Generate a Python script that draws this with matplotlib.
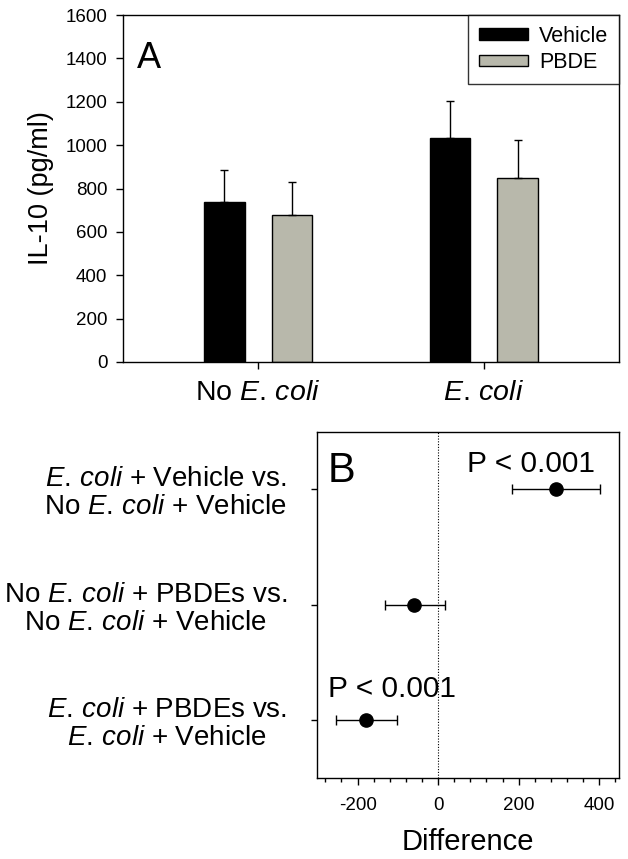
import matplotlib
matplotlib.use("Agg")
import matplotlib.pyplot as plt
from matplotlib.ticker import MultipleLocator
import numpy as np

plt.rcParams['font.family'] = ['Liberation Sans', 'DejaVu Sans']
plt.rcParams['mathtext.fontset'] = 'custom'
plt.rcParams['mathtext.rm'] = 'Liberation Sans'
plt.rcParams['mathtext.it'] = 'Liberation Sans:italic'
plt.rcParams['axes.unicode_minus'] = False

# Panel A data: IL-10 means and SEM (upper error only)
groups = ['No $\\it{E.\\,coli}$', '$\\it{E.\\,coli}$']
vehicle = [739, 1033]
vehicle_err = [148, 170]
pbde = [679, 850]
pbde_err = [151, 173]

# Panel B data: differences with confidence intervals
comparisons = ['$\\it{E.\\,coli}$ + Vehicle vs.\nNo $\\it{E.\\,coli}$ + Vehicle',
               'No $\\it{E.\\,coli}$ + PBDEs vs.\nNo $\\it{E.\\,coli}$ + Vehicle',
               '$\\it{E.\\,coli}$ + PBDEs vs.\n$\\it{E.\\,coli}$ + Vehicle']
diff = [292, -59, -178]
ci_low = [183, -131, -254]
ci_high = [403, 18, -103]

grey = '#b8b8ab'

fig = plt.figure(figsize=(6.28, 8.59), dpi=100)

"""Panel A"""
ax = fig.add_axes([0.1954, 0.5786, 0.7903, 0.4039])
x = np.arange(len(groups))
w = 0.18
ax.bar(x - 0.15, vehicle, w, color='black', edgecolor='black', linewidth=1, label='Vehicle')
ax.bar(x + 0.15, pbde, w, color=grey, edgecolor='black', linewidth=1, label='PBDE')
ax.errorbar(x - 0.15, vehicle, yerr=[[0, 0], vehicle_err], fmt='none', ecolor='black',
            elinewidth=1, capsize=3, capthick=1)
ax.errorbar(x + 0.15, pbde, yerr=[[0, 0], pbde_err], fmt='none', ecolor='black',
            elinewidth=1, capsize=3, capthick=1)
ax.set_xlim(-0.6, 1.6)
ax.set_ylim(0, 1600)
ax.set_yticks(range(0, 1601, 200))
ax.set_xticks(x)
ax.set_xticklabels(groups, fontsize=20.5)
ax.tick_params(axis='y', labelsize=13.5, direction='out', length=5, width=1, pad=6)
ax.tick_params(axis='x', direction='out', length=5, width=1, pad=8)
ax.set_ylabel('IL-10 (pg/ml)', fontsize=19.5, labelpad=8)
for s in ax.spines.values():
    s.set_linewidth(1)
ax.text(0.029, 0.847, 'A', transform=ax.transAxes, fontsize=26, va='baseline')
leg = ax.legend(loc='upper right', fontsize=15.5, frameon=True, fancybox=False,
                edgecolor='black', borderaxespad=0, handlelength=2.3, handleheight=0.46,
                labelspacing=0.25, handletextpad=0.5, borderpad=0.5)
leg.get_frame().set_linewidth(1)

"""Panel B"""
bx = fig.add_axes([0.5053, 0.0943, 0.4809, 0.4031])
y = np.array([3, 2, 1])
d = np.array(diff)
xerr = [d - np.array(ci_low), np.array(ci_high) - d]
bx.axvline(0, color='black', linestyle=(0, (1, 1.5)), linewidth=0.8)
bx.errorbar(d, y, xerr=xerr, fmt='o', color='black', markersize=9.5, elinewidth=1,
            capsize=3.5, capthick=1)
bx.set_xlim(-300, 450)
bx.set_ylim(0.5, 3.5)
bx.set_xticks([-200, 0, 200, 400])
bx.xaxis.set_minor_locator(MultipleLocator(40))
bx.set_yticks(y)
bx.set_yticklabels(comparisons, fontsize=20, multialignment='center', linespacing=1.1)
bx.tick_params(axis='y', direction='out', length=4, width=1, pad=18)
bx.tick_params(axis='x', which='major', labelsize=13.5, direction='out', length=5, width=1, pad=9)
bx.tick_params(axis='x', which='minor', direction='out', length=3, width=1)
bx.set_xlabel('Difference', fontsize=21, labelpad=10)
for s in bx.spines.values():
    s.set_linewidth(1)
bx.text(0.035, 0.855, 'B', transform=bx.transAxes, fontsize=30, va='baseline')
bx.text(0.495, 0.884, 'P < 0.001', transform=bx.transAxes, fontsize=21.5, va='baseline')
bx.text(0.035, 0.234, 'P < 0.001', transform=bx.transAxes, fontsize=21.5, va='baseline')

fig.savefig('out.png', dpi=100)
